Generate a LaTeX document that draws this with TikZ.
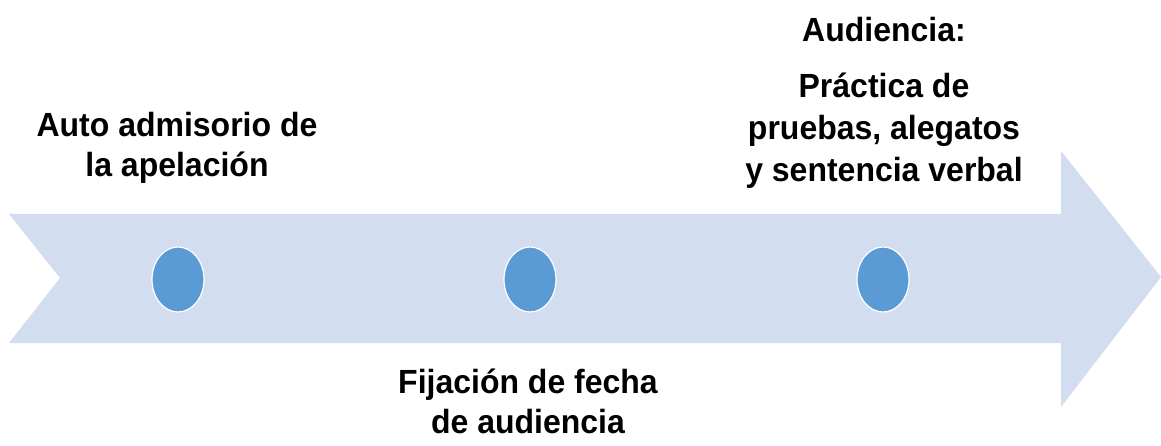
\documentclass[tikz,border=0pt]{standalone}
\usepackage{fontspec}
\setmainfont{Liberation Sans}
\newfontfamily\lblfont[FakeStretch=0.955]{Liberation Sans}
\definecolor{arrowfill}{HTML}{D2DDEF}
\definecolor{dotfill}{HTML}{5B9BD5}
\usetikzlibrary{shapes.geometric}
\tikzset{
  lbl/.style={font=\lblfont\bfseries\fontsize{33.5}{40}\selectfont, anchor=base, inner sep=0pt, text=black},
  dot/.style={ellipse, fill=dotfill, draw=white, line width=1.2pt, minimum width=52pt, minimum height=65pt, inner sep=0pt},
}
\begin{document}
\begin{tikzpicture}[x=1pt,y=-1pt]
\useasboundingbox (0,0) rectangle (1161,446);
% arrow
\fill[arrowfill] (9,214) -- (1061,214) -- (1061,151) -- (1161,277) -- (1061,407) -- (1061,343) -- (9,343) -- (60,278) -- cycle;
% dots
\node[dot] (d1) at (178,279.5) {};
\node[dot] (d2) at (530,279.5) {};
\node[dot] (d3) at (883,279.5) {};
% labels
\node[lbl] (a1) at (177,137) {Auto admisorio de};
\node[lbl] (a2) at (177,177) {la apelación};
\node[lbl] (b1) at (528,393) {Fijación de fecha};
\node[lbl] (b2) at (528,433) {de audiencia};
\node[lbl] (c0) at (884,42) {Audiencia:};
\node[lbl] (c1) at (884,98) {Práctica de};
\node[lbl] (c2) at (884,140) {pruebas, alegatos};
\node[lbl] (c3) at (884,182) {y sentencia verbal};
\end{tikzpicture}
\end{document}
